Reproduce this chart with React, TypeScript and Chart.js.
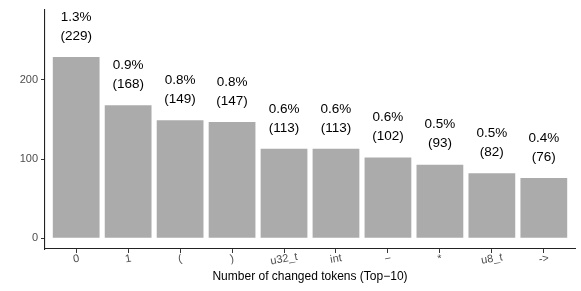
import React, { useEffect, useRef } from "react";
import { Chart, registerables } from "chart.js";

Chart.register(...registerables);

const categories = ["0", "1", "(", ")", "u32_t", "int", "\u2212", "*", "u8_t", "->"];
const counts = [229, 168, 149, 147, 113, 113, 102, 93, 82, 76];
const percents = ["1.3%", "0.9%", "0.8%", "0.8%", "0.6%", "0.6%", "0.6%", "0.5%", "0.5%", "0.4%"];
const yTicks = [0, 100, 200];
const xTitle = "Number of changed tokens (Top\u221210)";

const FONT = "'Liberation Sans', Arial, Helvetica, sans-serif";

const labelPlugin = {
  id: "barLabels",
  afterDatasetsDraw(chart: any) {
    const ctx = chart.ctx;
    const meta = chart.getDatasetMeta(0);
    ctx.save();
    ctx.fillStyle = "#000000";
    ctx.font = `13.5px ${FONT}`;
    ctx.textAlign = "center";
    ctx.textBaseline = "middle";
    meta.data.forEach((el: any, i: number) => {
      ctx.fillText(percents[i], el.x, el.y - 40);
      ctx.fillText(`(${counts[i]})`, el.x, el.y - 21);
    });
    ctx.restore();
  },
  afterDraw(chart: any) {
    const ctx = chart.ctx;
    const xs = chart.scales.x;
    ctx.save();
    ctx.fillStyle = "#4d4d4d";
    ctx.font = `11px ${FONT}`;
    ctx.textAlign = "center";
    ctx.textBaseline = "middle";
    categories.forEach((c, i) => {
      const px = xs.getPixelForValue(i);
      ctx.save();
      ctx.translate(px, xs.top + 10);
      ctx.rotate((-10 * Math.PI) / 180);
      ctx.fillText(c, 0, 0);
      ctx.restore();
    });
    ctx.restore();
  },
};

export default function App() {
  const ref = useRef<HTMLCanvasElement>(null);
  useEffect(() => {
    if (!ref.current) return;
    const chart = new Chart(ref.current, {
      type: "bar",
      data: {
        datasets: [
          {
            data: counts.map((v, i) => ({ x: i, y: v })),
            backgroundColor: "#ababab",
            borderWidth: 0,
            barPercentage: 0.9,
            categoryPercentage: 1,
          },
        ],
      },
      options: {
        responsive: false,
        animation: false,
        devicePixelRatio: 1,
        layout: { padding: { top: 5, right: 6, left: 0, bottom: 0 } },
        plugins: { legend: { display: false }, tooltip: { enabled: false } },
        scales: {
          x: {
            type: "linear",
            min: -0.6,
            max: 9.6,
            offset: false,
            afterBuildTicks: (s: any) => {
              s.ticks = categories.map((_, i) => ({ value: i }));
            },
            afterFit: (s: any) => {
              s.height = 42;
            },
            ticks: { display: false },
            grid: {
              display: true,
              offset: false,
              drawOnChartArea: false,
              drawTicks: true,
              tickLength: 4,
              color: "#333333",
            },
            border: { display: true, color: "#222222", width: 1.1 },
            title: {
              display: true,
              text: xTitle,
              color: "#000000",
              font: { family: FONT, size: 12 },
              padding: { top: 0, bottom: 7 },
            },
          },
          y: {
            type: "linear",
            min: -13.6,
            max: 288.9,
            afterBuildTicks: (s: any) => {
              s.ticks = yTicks.map((v) => ({ value: v }));
            },
            afterFit: (s: any) => {
              s.width = 45;
            },
            ticks: {
              color: "#4d4d4d",
              font: { family: FONT, size: 11 },
              padding: 3,
            },
            grid: {
              display: true,
              drawOnChartArea: false,
              drawTicks: true,
              tickLength: 4,
              color: "#333333",
            },
            border: { display: true, color: "#222222", width: 1.1 },
          },
        },
      },
      plugins: [labelPlugin],
    });
    return () => chart.destroy();
  }, []);
  return (
    <div style={{ position: "absolute", left: 0, top: 0, width: 581, height: 291, background: "#fff" }}>
      <canvas ref={ref} width={581} height={291} />
    </div>
  );
}
